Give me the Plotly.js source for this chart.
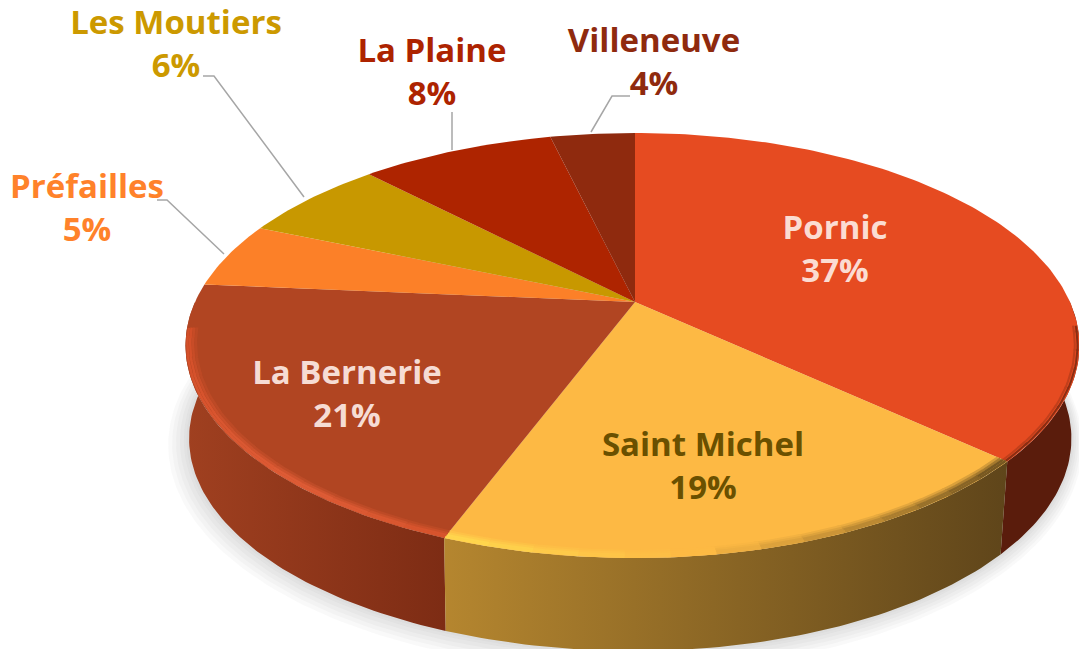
<!DOCTYPE html>
<html><head><meta charset="utf-8">
<script src="https://cdn.plot.ly/plotly-3.0.1.min.js"></script>
<style>html,body{margin:0;padding:0;background:#fff}#c{width:1079px;height:649px}</style></head>
<body><div id="c"></div>
<script>
const categories=['Pornic','Saint Michel','La Bernerie','Préfailles','Les Moutiers','La Plaine','Villeneuve'];
const shares=[36.8,18.9,20.7,5.0,6.4,8.49,3.71];
const colors=['#e64b21','#fdb944','#b14522','#fc8028','#c89800','#ae2400','#8f2a0e'];
const textColors=['#fbdcd2','#6a5000','#f6dcd4','#ff822a','#cc9900','#ad2300','#8f2a0e'];
const wallLeft=['#5a1c0c','#b5862f','#a04020','#a04020','#a04020','#a04020','#a04020'];
const wallRight=['#5a1c0c','#5f451a','#7d2c14','#a04020','#a04020','#a04020','#a04020'];
const labelX=[835,703,347,87,176,432,654];
const labelY=[252,469,397,211,47,75,65];
const leaderX=[null,null,null,[157,167,224],[203,214,304],[452,452],[630,612,591]];
const leaderY=[null,null,null,[200,200,254],[76,76,197],[112,150],[96,96,132]];
const CX=635,CY=302,DR=435,DL=440,A=-141.8,C=0.2047,DEPTH=93,SHRINK_L=0.992,SHRINK_R=0.982;
function pt(deg,r){r=r===undefined?1:r;const t=deg*Math.PI/180,u=r*Math.sin(t),v=r*Math.cos(t),den=1+C*v;
  return [CX+(u>0?DR:DL)*u/den,(A*v+CY)/den];}
function low(p){return [CX+(p[0]-CX)*(p[0]<CX?SHRINK_L:SHRINK_R),p[1]+DEPTH];}
function arc(a,b,r){const o=[],n=Math.max(2,Math.ceil(Math.abs(b-a)));for(let i=0;i<=n;i++)o.push(pt(a+(b-a)*i/n,r));return o;}
function hex(c){return [1,3,5].map(i=>parseInt(c.substr(i,2),16));}
function toHex(a){return '#'+a.map(v=>Math.round(v).toString(16).padStart(2,'0')).join('');}
function mix(a,b,t){const x=hex(a),y=hex(b);return toHex(x.map((v,i)=>v+(y[i]-v)*t));}
const traces=[];
function poly(pts,extra){return Object.assign({type:'scatter',mode:'lines',x:pts.map(p=>p[0]),y:pts.map(p=>p[1]),
  line:{width:0},fill:'toself',hoverinfo:'skip',showlegend:false},extra);}
function stroke(pts,color,width){traces.push({type:'scatter',mode:'lines',x:pts.map(p=>p[0]),y:pts.map(p=>p[1]),
  line:{color:color,width:width},hoverinfo:'skip',showlegend:false});}
// soft drop shadow
const outer=arc(0,360).map(low);
[16,13,10,7,4,2].forEach(g=>{const pts=outer.map(p=>[CX+(p[0]-CX)*(1+g/445)-g*0.3,(p[1]-360)*(1+g/250)+360+g*0.1]);
  traces.push(poly(pts,{fillcolor:'rgba(120,120,120,0.045)'}));});
let cum=0;const starts=shares.map(s=>{const r=cum;cum+=s;return r*3.6;});
const ends=shares.map((s,i)=>starts[i]+s*3.6);
// walls
[2,0,1].forEach(i=>{const visible=arc(starts[i],ends[i]).filter(p=>p[1]>300||i===1);
  const pts=visible.concat(visible.slice().reverse().map(low));
  traces.push(poly(pts,{fillcolor:wallLeft[i],fillgradient:{type:'horizontal',colorscale:[[0,wallLeft[i]],[1,wallRight[i]]]}}));
});
// top faces
categories.forEach((c,i)=>{const pts=[[CX,CY]].concat(arc(starts[i],ends[i]),[[CX,CY]]);
  traces.push(poly(pts,{fillcolor:colors[i],name:c}));});
// bevel along the front edge: nested arcs fading from the face colour to the rim colour
function rimColor(i,t){
  if(i===0) return '#8a2e13';
  if(i===1) return t<0.6?mix('#6e5220','#fdb944',t/0.6):mix('#fdb944','#ffd84e',(t-0.6)/0.4);
  return t<0.75?mix('#cf4a24','#de5c36',t/0.75):mix('#de5c36','#d6532c',(t-0.75)/0.25);
}
const ringsWide=[[0.978,0.3],[0.984,0.65],[0.990,1],[0.996,1]];
const ringsThin=[[0.990,0.4],[0.996,1]];
[0,1,2].forEach(i=>{
  const a=i===0?starts[0]+88:starts[i], b=ends[i], n=Math.ceil((b-a)/5);
  const rings=i===0?ringsThin:ringsWide;
  for(let k=0;k<n;k++){
    const t0=a+(b-a)*k/n,t1=a+(b-a)*(k+1)/n;
    const t=(k+.5)/n, tt=i===2?1-t:t;
    rings.forEach(([r,w])=>{
      const seg=arc(t0,Math.min(t1+0.5,b),r).filter(p=>p[1]>325);
      if(seg.length>1) stroke(seg,mix(colors[i],rimColor(i,tt),w),i===0?2:2.6);
    });
  }
});
// leaders
categories.forEach((c,i)=>{if(leaderX[i])stroke(leaderX[i].map((x,k)=>[x,leaderY[i][k]]),'#a6a6a6',1.5);});
// labels
traces.push({type:'scatter',mode:'text',x:labelX,y:labelY,
  text:categories.map((c,i)=>c+'<br>'+Math.round(shares[i])+'%'),
  textposition:'middle center',textfont:{family:'Open Sans, sans-serif',size:33,weight:700,color:textColors},hoverinfo:'skip',showlegend:false});
Plotly.newPlot('c',traces,{width:1079,height:649,margin:{l:0,r:0,t:0,b:0},paper_bgcolor:'#fff',plot_bgcolor:'#fff',
  xaxis:{range:[0,1079],visible:false,fixedrange:true},yaxis:{range:[649,0],visible:false,fixedrange:true},showlegend:false},{displayModeBar:false,staticPlot:true});
</script></body></html>
